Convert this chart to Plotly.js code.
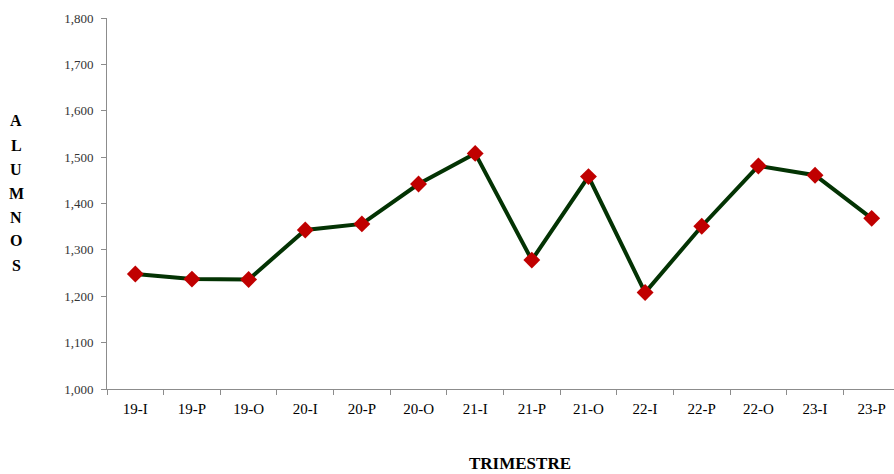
<!DOCTYPE html>
<html>
<head>
<meta charset="utf-8">
<script src="https://cdn.plot.ly/plotly-3.0.1.min.js"></script>
<style>
html,body{margin:0;padding:0;overflow:hidden;background:#fff;}
#chart{width:900px;height:474px;}
</style>
</head>
<body>
<div id="chart"></div>
<script>
const trimestres = ["19-I","19-P","19-O","20-I","20-P","20-O","21-I","21-P","21-O","22-I","22-P","22-O","23-I","23-P"];
const alumnos = [1248,1237,1236,1343,1356,1442,1508,1278,1458,1208,1351,1481,1461,1368];
const yTicks = [1000,1100,1200,1300,1400,1500,1600,1700,1800];
const yTitleLetters = ["A","L","U","M","N","O","S"];
const xTitle = "TRIMESTRE";

const serif = "'Liberation Serif', 'DejaVu Serif', serif";

const trace = {
  x: trimestres,
  y: alumnos,
  type: "scatter",
  mode: "lines+markers",
  line: {color: "#033303", width: 4},
  marker: {symbol: "diamond", size: 13, color: "#c00000", line: {width: 0}},
  hoverinfo: "x+y"
};

// Vertical stacked y-axis title, one letter per line
const plotTop = 18, plotBottom = 389, plotH = plotBottom - plotTop;
const letterPx = [121,145,169,193,217,241,265];
const annotations = yTitleLetters.map((ch, i) => ({
  text: "<b>" + ch + "</b>",
  xref: "paper", yref: "paper",
  x: (16 - 107) / 793, y: (plotBottom - letterPx[i]) / plotH,
  xanchor: "center", yanchor: "middle",
  showarrow: false,
  font: {family: serif, size: 16, color: "#000"}
}));
annotations.push({
  text: "<b>" + xTitle + "</b>",
  xref: "paper", yref: "paper",
  x: (520 - 107) / 793, y: -(463 - plotBottom) / plotH,
  xanchor: "center", yanchor: "middle",
  showarrow: false,
  font: {family: serif, size: 17, color: "#000"}
});

const layout = {
  width: 900, height: 474,
  margin: {l: 107, r: 0, t: 18, b: 85},
  paper_bgcolor: "#fff", plot_bgcolor: "#fff",
  showlegend: false,
  font: {family: serif},
  xaxis: {
    type: "category",
    showgrid: false, zeroline: false,
    showline: true, linecolor: "#8c8c8c", linewidth: 1,
    ticks: "outside", tickson: "boundaries", ticklen: 5, tickcolor: "#8c8c8c",
    ticklabelstandoff: 6,
    tickfont: {family: serif, size: 15, color: "#000"},
    range: [-0.5, 13.5]
  },
  yaxis: {
    range: [1000, 1800],
    tickvals: yTicks,
    tickformat: ",d",
    showgrid: false, zeroline: false,
    showline: true, linecolor: "#8c8c8c", linewidth: 1,
    ticks: "outside", ticklen: 5, tickcolor: "#8c8c8c",
    ticklabelstandoff: 5,
    tickfont: {family: serif, size: 13, color: "#333333"}
  },
  annotations: annotations
};

Plotly.newPlot("chart", [trace], layout, {displayModeBar: false, staticPlot: true});
</script>
</body>
</html>
